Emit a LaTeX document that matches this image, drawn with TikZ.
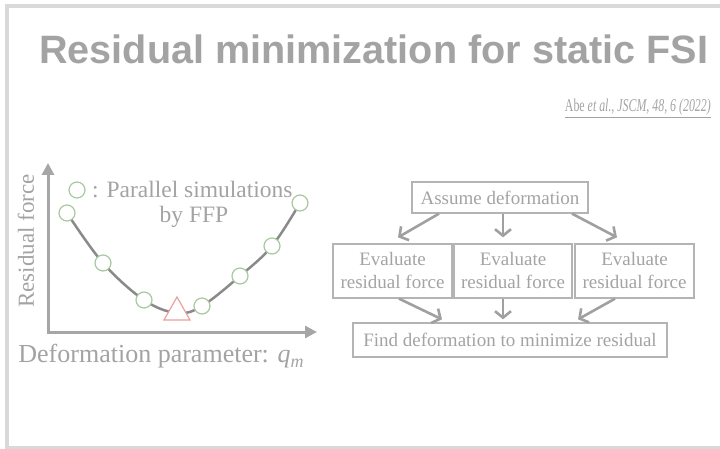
\documentclass[tikz,border=0pt]{standalone}
\usepackage{fontspec}
\usepackage{graphicx}
\setmainfont{Liberation Serif}
\newfontfamily\titlefont{Liberation Sans}
\usetikzlibrary{arrows.meta}
\definecolor{framegray}{HTML}{D9D9D9}
\definecolor{txtgray}{HTML}{A3A3A3}
\definecolor{axisgray}{HTML}{A6A6A6}
\definecolor{curvegray}{HTML}{8A8A8A}
\definecolor{circgreen}{HTML}{A8C8A0}
\definecolor{trired}{HTML}{EAA0A0}
\definecolor{boxgray}{HTML}{B4B4B4}
\definecolor{arrowgray}{HTML}{A0A0A0}
\begin{document}
\begin{tikzpicture}[x=1pt,y=-1pt,
  txt/.style={text=txtgray, inner sep=0pt},
  flowbox/.style={draw=boxgray, line width=1.3pt, text=txtgray, font=\fontsize{19}{23}\selectfont, align=center, inner sep=0pt},
  flowarrow/.style={draw=arrowgray, line width=2.6pt, -{Straight Barb[length=6.5pt,width=16pt]}},
  sample/.style={circle, draw=circgreen, fill=white, line width=1.2pt, minimum size=16pt, inner sep=0pt},
  axisline/.style={draw=axisgray, line width=3pt, {Triangle[length=12pt,width=12pt]}-{Triangle[length=12pt,width=12pt]}}
]
\useasboundingbox (0,0) rectangle (720,449);
\begin{scope}
\clip (0,0) rectangle (720,449);
\draw[framegray, line width=4pt] (7,6) rectangle (740,448);
\end{scope}

% title and citation
\node[txt, anchor=base west, font=\titlefont\bfseries\fontsize{39.6}{43}\selectfont] (title) at (39,64) {Residual minimization for static FSI};
\node[txt, anchor=base east, font=\fontsize{18}{20}\selectfont] (cite) at (711,112) {\scalebox{0.66}[1]{\underline{Abe \textit{et al., JSCM, 48, 6 (2022)}}}};

% plot
\coordinate (Ytip) at (48,163);
\coordinate (O) at (48,332);
\coordinate (Xtip) at (317,332);
\draw[axisline] (Ytip) -- (O) -- (Xtip);
\node[txt, rotate=90, font=\fontsize{23}{25}\selectfont] (ylab) at (26,241) {Residual force};
\node[txt, anchor=base, font=\fontsize{26}{28}\selectfont] (xlab) at (161,362) {Deformation parameter: \textit{q}\raisebox{-0.2em}{\fontsize{18}{18}\selectfont\textit{m}}};

\coordinate (p1) at (67,213);
\coordinate (p2) at (103,263);
\coordinate (p3) at (144,300);
\coordinate (pm) at (177,313);
\coordinate (p4) at (202,306);
\coordinate (p5) at (240,276);
\coordinate (p6) at (272,246);
\coordinate (p7) at (300,203);
\draw[curvegray, line width=2.5pt] plot[smooth, tension=0.6] coordinates {(p1) (p2) (p3) (pm) (p4) (p5) (p6) (p7)};
\foreach \i in {1,...,7} { \node[sample] (c\i) at (p\i) {}; }
\draw[trired, fill=white, line width=1.2pt] (164,320) -- (177,297) -- (190,320) -- cycle;

% legend
\node[sample] (legc) at (77,190) {};
\node[txt, anchor=west, font=\fontsize{23.5}{26}\selectfont] (legt) at (92,190) {: Parallel simulations};
\node[txt, font=\fontsize{23.5}{26}\selectfont] (legt2) at (194,217) {by FFP};

% flowchart
\node[flowbox, minimum width=176pt, minimum height=31pt] (A) at (500,197.5) {Assume deformation};
\node[flowbox, minimum width=119pt, minimum height=54pt] (E1) at (392.5,271) {Evaluate\\residual force};
\node[flowbox, minimum width=118pt, minimum height=54pt] (E2) at (513,271) {Evaluate\\residual force};
\node[flowbox, minimum width=119pt, minimum height=54pt] (E3) at (634.5,271) {Evaluate\\residual force};
\node[flowbox, minimum width=314pt, minimum height=34pt] (F) at (510,340) {Find deformation to minimize residual};

\draw[flowarrow] ([xshift=-61pt]A.south) -- ([xshift=5.5pt,yshift=6pt]E1.north);
\draw[flowarrow] ([xshift=3pt]A.south) -- ([xshift=-10pt,yshift=6pt]E2.north);
\draw[flowarrow] ([xshift=72pt]A.south) -- ([xshift=-17.5pt,yshift=6pt]E3.north);
\draw[flowarrow] ([xshift=6.5pt]E1.south) -- ([xshift=-68pt,yshift=3pt]F.north);
\draw[flowarrow] ([xshift=-10pt]E2.south) -- ([xshift=-7pt,yshift=3pt]F.north);
\draw[flowarrow] ([xshift=-19.5pt]E3.south) -- ([xshift=68pt,yshift=3pt]F.north);
\end{tikzpicture}
\end{document}
